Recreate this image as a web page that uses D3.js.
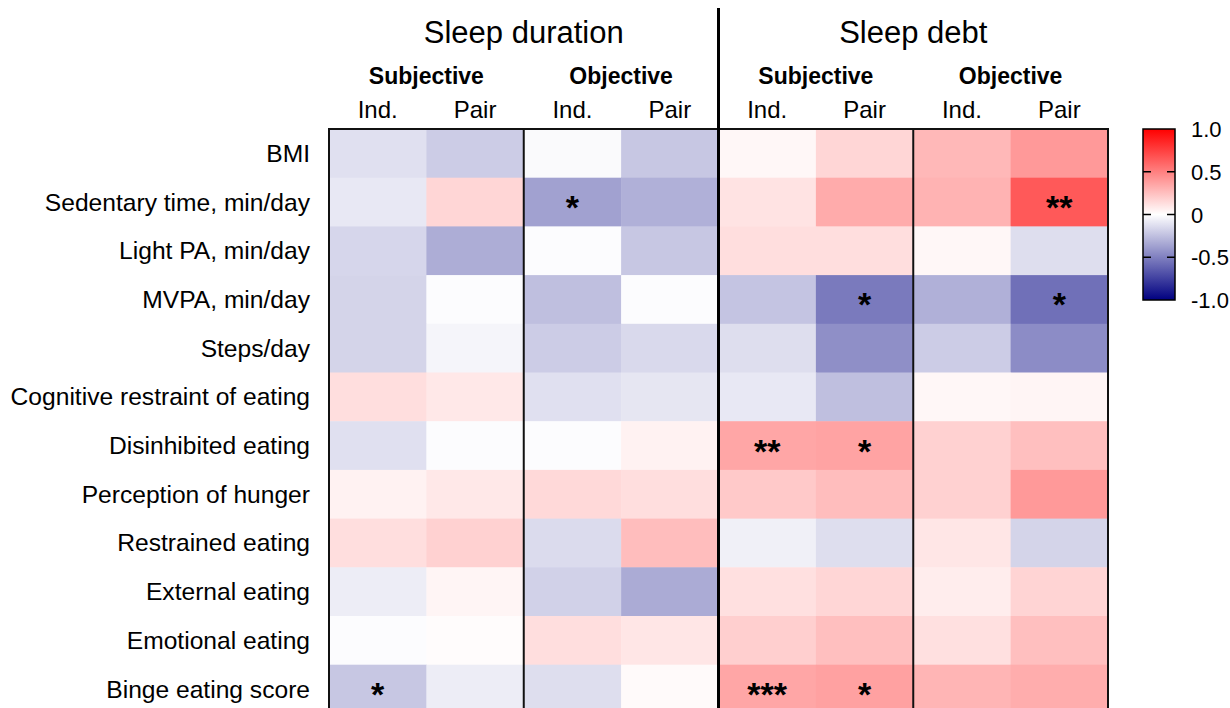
<!DOCTYPE html>
<html>
<head>
<meta charset="utf-8">
<script src="https://cdn.jsdelivr.net/npm/d3@7"></script>
<style>
  html, body { margin: 0; padding: 0; background: #fff; }
  svg { display: block; font-family: "Liberation Sans", Arial, Helvetica, sans-serif; }
</style>
</head>
<body>
<div id="chart"></div>
<script>
// outcome rows, top to bottom
const rows = [
  'BMI',
  'Sedentary time, min/day',
  'Light PA, min/day',
  'MVPA, min/day',
  'Steps/day',
  'Cognitive restraint of eating',
  'Disinhibited eating',
  'Perception of hunger',
  'Restrained eating',
  'External eating',
  'Emotional eating',
  'Binge eating score'
];

const groups = ['Sleep duration', 'Sleep debt'];
const subgroups = ['Subjective', 'Objective'];
const models = ['Ind.', 'Pair'];

// columns: duration subj ind/pair, duration obj ind/pair, debt subj ind/pair, debt obj ind/pair
const values = [
  [-0.12, -0.20, -0.02, -0.22,  0.03,  0.16,  0.28,  0.40],
  [-0.09,  0.16, -0.37, -0.31,  0.11,  0.33,  0.30,  0.65],
  [-0.16, -0.32, -0.01, -0.22,  0.13,  0.13,  0.03, -0.13],
  [-0.17, -0.01, -0.25, -0.01, -0.23, -0.52, -0.31, -0.56],
  [-0.17, -0.04, -0.20, -0.15, -0.13, -0.44, -0.20, -0.45],
  [ 0.13,  0.09, -0.12, -0.10, -0.09, -0.25,  0.03,  0.04],
  [-0.12, -0.01, -0.01,  0.05,  0.35,  0.36,  0.18,  0.25],
  [ 0.05,  0.09,  0.15,  0.13,  0.21,  0.26,  0.18,  0.40],
  [ 0.13,  0.18, -0.14,  0.26, -0.06, -0.13,  0.10, -0.17],
  [-0.07,  0.04, -0.18, -0.33,  0.12,  0.16,  0.07,  0.17],
  [-0.01,  0.01,  0.13,  0.10,  0.19,  0.25,  0.12,  0.25],
  [-0.22, -0.07, -0.13,  0.02,  0.35,  0.37,  0.29,  0.32]
];

const stars = [
  ['', '', '', '', '', '', '', ''],
  ['', '', '*', '', '', '', '', '**'],
  ['', '', '', '', '', '', '', ''],
  ['', '', '', '', '', '*', '', '*'],
  ['', '', '', '', '', '', '', ''],
  ['', '', '', '', '', '', '', ''],
  ['', '', '', '', '**', '*', '', ''],
  ['', '', '', '', '', '', '', ''],
  ['', '', '', '', '', '', '', ''],
  ['', '', '', '', '', '', '', ''],
  ['', '', '', '', '', '', '', ''],
  ['*', '', '', '', '***', '*', '', '']
];

const legendTicks = [1, 0.5, 0, -0.5, -1];
const legendLabels = ['1.0', '0.5', '0', '-0.5', '-1.0'];

const W = 1230, H = 708;
const gridLeft = 329, gridRight = 1108, gridTop = 129, rowH = 48.7;
const gridBottom = gridTop + rowH * rows.length;

const svg = d3.select('#chart').append('svg')
  .attr('width', W)
  .attr('height', H);

const cols = d3.range(8);
const x = d3.scaleBand().domain(cols).range([gridLeft, gridRight]);
const y = d3.scaleBand().domain(rows).range([gridTop, gridBottom]);

const color = d3.scaleLinear()
  .domain([-1, 0, 1])
  .range(['#000080', '#ffffff', '#ff0000'])
  .clamp(true);

const cells = [];
values.forEach((r, i) => r.forEach((v, j) => cells.push({ row: rows[i], col: j, v, s: stars[i][j] })));

svg.append('g').selectAll('rect')
  .data(cells)
  .enter()
  .append('rect')
  .attr('x', d => x(d.col))
  .attr('y', d => y(d.row))
  .attr('width', x.bandwidth() + 0.5)
  .attr('height', y.bandwidth() + 0.5)
  .attr('fill', d => color(d.v));

// significance stars, glyph centred in the cell
svg.append('g').selectAll('text')
  .data(cells.filter(d => d.s))
  .enter()
  .append('text')
  .attr('x', d => x(d.col) + x.bandwidth() / 2)
  .attr('y', d => y(d.row) + y.bandwidth() / 2 + 17)
  .attr('text-anchor', 'middle')
  .style('font-size', '34px')
  .style('font-weight', 'bold')
  .style('fill', '#000')
  .text(d => d.s);

// frame and dividers
svg.append('rect')
  .attr('x', gridLeft)
  .attr('y', gridTop)
  .attr('width', gridRight - gridLeft)
  .attr('height', gridBottom - gridTop)
  .attr('fill', 'none')
  .attr('stroke', '#111')
  .attr('stroke-width', 2);

[2, 6].forEach(c => {
  svg.append('line')
    .attr('x1', x(c)).attr('x2', x(c))
    .attr('y1', gridTop).attr('y2', gridBottom)
    .attr('stroke', '#111')
    .attr('stroke-width', 2);
});

svg.append('line')
  .attr('x1', x(4)).attr('x2', x(4))
  .attr('y1', 8).attr('y2', gridBottom)
  .attr('stroke', '#000')
  .attr('stroke-width', 3);

// row labels
svg.append('g').selectAll('text')
  .data(rows)
  .enter()
  .append('text')
  .attr('x', 310)
  .attr('y', d => y(d) + y.bandwidth() / 2 + 8.5)
  .attr('text-anchor', 'end')
  .style('font-size', '24.6px')
  .style('fill', '#000')
  .text(d => d);

// headers
groups.forEach((g, gi) => {
  svg.append('text')
    .attr('x', (x(gi * 4) + x(gi * 4 + 3) + x.bandwidth()) / 2)
    .attr('y', 43)
    .attr('text-anchor', 'middle')
    .style('font-size', '31px')
    .text(g);
  subgroups.forEach((s, si) => {
    const c0 = gi * 4 + si * 2;
    svg.append('text')
      .attr('x', x(c0) + x.bandwidth())
      .attr('y', 84)
      .attr('text-anchor', 'middle')
      .style('font-size', '23px')
      .style('font-weight', 'bold')
      .text(s);
    models.forEach((m, mi) => {
      svg.append('text')
        .attr('x', x(c0 + mi) + x.bandwidth() / 2)
        .attr('y', 118)
        .attr('text-anchor', 'middle')
        .style('font-size', '24px')
        .text(m);
    });
  });
});

// colour legend
const lx = 1143, lw = 32, ly0 = 129, ly1 = 300;
const ly = d3.scaleLinear().domain([1, -1]).range([ly0, ly1]);

const grad = svg.append('defs').append('linearGradient')
  .attr('id', 'legendGrad')
  .attr('x1', 0).attr('y1', 0).attr('x2', 0).attr('y2', 1);
grad.selectAll('stop')
  .data([1, 0.5, 0, -0.5, -1])
  .enter()
  .append('stop')
  .attr('offset', d => (1 - d) / 2)
  .attr('stop-color', d => color(d));

svg.append('rect')
  .attr('x', lx).attr('y', ly0)
  .attr('width', lw).attr('height', ly1 - ly0)
  .attr('fill', 'url(#legendGrad)')
  .attr('stroke', '#000')
  .attr('stroke-width', 1.5);

const inner = legendTicks.filter(t => Math.abs(t) < 1);
svg.append('g').selectAll('path')
  .data(inner)
  .enter()
  .append('path')
  .attr('d', t => `M${lx},${ly(t)}h8M${lx + lw - 8},${ly(t)}h8`)
  .attr('stroke', '#000')
  .attr('stroke-width', 1.5);

svg.append('g').selectAll('text')
  .data(legendTicks)
  .enter()
  .append('text')
  .attr('x', 1191)
  .attr('y', (t) => ly(t) + 8)
  .style('font-size', '22px')
  .text((t, i) => legendLabels[i]);
</script>
</body>
</html>
